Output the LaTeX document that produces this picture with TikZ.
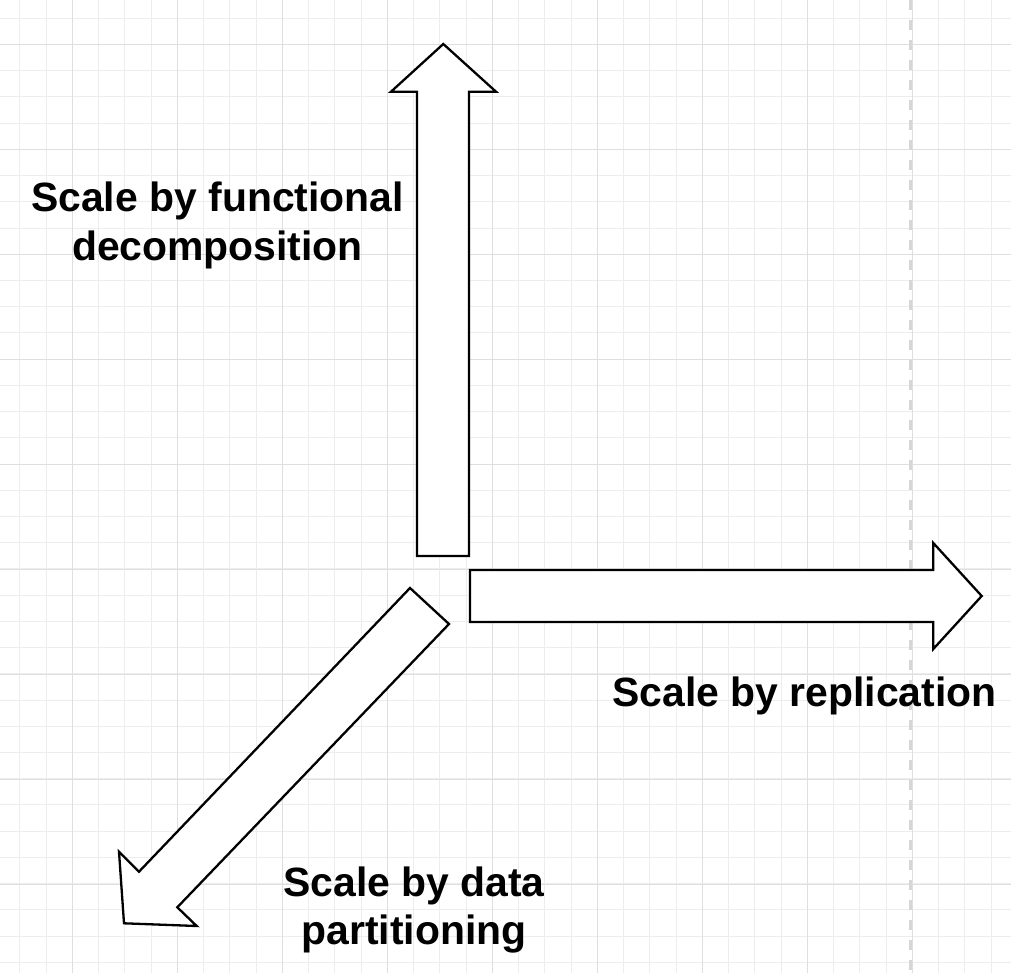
\documentclass[tikz,border=0pt]{standalone}
\usepackage{fontspec}
\setmainfont{Liberation Sans}
\usepackage{tikz,tkz-euclide}

\definecolor{gridminor}{HTML}{EDEDED}
\definecolor{gridmajor}{HTML}{DFDFDF}
\definecolor{pagebreak}{HTML}{D6D6D6}

\begin{document}
\begin{tikzpicture}[x=1pt,y=-1pt,
    minorline/.style={gridminor,line width=1pt},
    majorline/.style={gridmajor,line width=1pt},
    blockarrow/.style={fill=white,draw=black,line width=2.3pt,line join=miter},
    axislabel/.style={font=\bfseries\fontsize{40.9}{48.3}\selectfont,align=center,inner sep=0pt}]
        \useasboundingbox[fill=white] (0,0) rectangle (1011,973);

        % background grid
        \foreach \k in {0,...,37}
            \draw[minorline] ({19.8+26.25*\k},0) -- ({19.8+26.25*\k},973);
        \foreach \k in {0,...,36}
            \draw[minorline] (0,{18.3+26.22*\k}) -- (1011,{18.3+26.22*\k});
        \foreach \k in {0,...,8}
            \draw[majorline] ({72.3+105*\k},0) -- ({72.3+105*\k},973);
        \foreach \k in {0,...,8}
            \draw[majorline] (0,{44.3+105*\k}) -- (1011,{44.3+105*\k});
        \draw[pagebreak,line width=3pt,dash pattern=on 10pt off 10pt] (910.5,0) -- (910.5,973);

        % up arrow
        \tkzDefPoint(417,556){U1}
        \tkzDefPoint(469,556){U2}
        \tkzDefPoint(469,91.7){U3}
        \tkzDefPoint(496,91.7){U4}
        \tkzDefPoint(443.3,44){U5}
        \tkzDefPoint(391,91.7){U6}
        \tkzDefPoint(417,91.7){U7}
        \tkzDrawPolygon[blockarrow](U1,U2,U3,U4,U5,U6,U7)

        % right arrow
        \tkzDefPoint(470,570){R1}
        \tkzDefPoint(933.3,570){R2}
        \tkzDefPoint(933.3,543){R3}
        \tkzDefPoint(981.7,596){R4}
        \tkzDefPoint(933.3,649){R5}
        \tkzDefPoint(933.3,622){R6}
        \tkzDefPoint(470,622){R7}
        \tkzDrawPolygon[blockarrow](R1,R2,R3,R4,R5,R6,R7)

        % down-left arrow
        \tkzDefPoint(410,588){D1}
        \tkzDefPoint(449,624){D2}
        \tkzDefPoint(177.3,907.3){D3}
        \tkzDefPoint(196.7,926){D4}
        \tkzDefPoint(124,923.3){D5}
        \tkzDefPoint(119,851.7){D6}
        \tkzDefPoint(139,871.7){D7}
        \tkzDrawPolygon[blockarrow](D1,D2,D3,D4,D5,D6,D7)

        \node[axislabel] (funclabel) at (217.5,225.3) {Scale by functional\\decomposition};
        \node[axislabel,anchor=base] (repllabel) at (804.5,706.7) {Scale by replication};
        \node[axislabel] (datalabel) at (414,909.7) {Scale by data\\partitioning};
    \end{tikzpicture}
\end{document}
